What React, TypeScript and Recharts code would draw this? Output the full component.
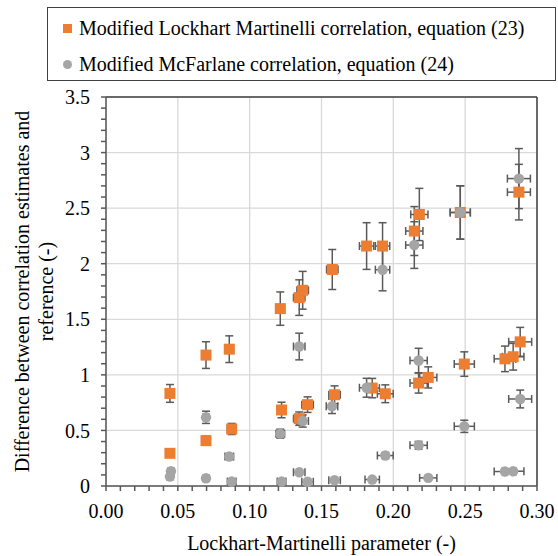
import { ScatterChart, Scatter, XAxis, YAxis, CartesianGrid, ErrorBar, ReferenceLine, Legend } from 'recharts';

const FONT = "'Liberation Serif', 'DejaVu Serif', Times, serif";
const ORANGE = '#ED7D31';
const GRAY = '#A5A5A5';
const BAR = '#5A5A5A';

// Modified Lockhart Martinelli correlation, equation (23)
const lmX = [0.0445, 0.0445, 0.0696, 0.0696, 0.0858, 0.0875, 0.1213, 0.1222, 0.1345, 0.1345, 0.1369, 0.1403, 0.1575, 0.1591,
  0.1814, 0.1853, 0.1925, 0.1944, 0.2146, 0.2181, 0.2176, 0.2243, 0.2466, 0.2494, 0.2777, 0.2834, 0.2874, 0.2883];
const lmY = [0.833, 0.294, 1.178, 0.408, 1.231, 0.513, 1.596, 0.684, 1.695, 0.606, 1.761, 0.732, 1.948, 0.821,
  2.159, 0.881, 2.159, 0.83, 2.294, 2.443, 0.926, 0.977, 2.461, 1.097, 1.144, 1.163, 2.644, 1.297];
const lmYErr = [0.08, 0.03, 0.12, 0.04, 0.12, 0.05, 0.15, 0.07, 0.16, 0.06, 0.17, 0.07, 0.18, 0.08,
  0.21, 0.087, 0.21, 0.08, 0.22, 0.235, 0.09, 0.095, 0.24, 0.11, 0.115, 0.12, 0.25, 0.13];
const lmXErr = [0.002, 0.002, 0.002, 0.002, 0.003, 0.003, 0.003, 0.003, 0.004, 0.004, 0.004, 0.004, 0.004, 0.004,
  0.005, 0.005, 0.005, 0.0055, 0.006, 0.006, 0.006, 0.006, 0.007, 0.007, 0.0075, 0.0075, 0.008, 0.008];

// Modified McFarlane correlation, equation (24)
const mfX = [0.0452, 0.0445, 0.0696, 0.0696, 0.0858, 0.0875, 0.1213, 0.1222, 0.1345, 0.1345, 0.1369, 0.1403, 0.1573, 0.1591,
  0.1814, 0.1853, 0.1925, 0.1944, 0.2146, 0.2176, 0.2176, 0.2243, 0.2466, 0.2494, 0.2777, 0.2834, 0.2874, 0.2883];
const mfY = [0.133, 0.085, 0.618, 0.07, 0.265, 0.04, 0.471, 0.04, 1.255, 0.124, 0.585, 0.038, 0.717, 0.052,
  0.884, 0.058, 1.946, 0.274, 2.168, 1.129, 0.366, 0.073, 2.461, 0.537, 0.13, 0.133, 2.766, 0.783];
const mfYErr = [0.01, 0.01, 0.055, 0.007, 0.025, 0.004, 0.04, 0.004, 0.12, 0.012, 0.055, 0.004, 0.065, 0.005,
  0.085, 0.006, 0.19, 0.027, 0.21, 0.11, 0.035, 0.007, 0.24, 0.055, 0.013, 0.013, 0.27, 0.08];
const mfXErr = lmXErr;

const X_TICKS = [0, 0.01, 0.02, 0.03, 0.04, 0.05, 0.06, 0.07, 0.08, 0.09, 0.1, 0.11, 0.12, 0.13, 0.14, 0.15,
  0.16, 0.17, 0.18, 0.19, 0.2, 0.21, 0.22, 0.23, 0.24, 0.25, 0.26, 0.27, 0.28, 0.29, 0.3];
const X_MAJOR = [0, 0.05, 0.1, 0.15, 0.2, 0.25, 0.3];
const Y_TICKS = [0, 0.1, 0.2, 0.3, 0.4, 0.5, 0.6, 0.7, 0.8, 0.9, 1, 1.1, 1.2, 1.3, 1.4, 1.5, 1.6, 1.7, 1.8, 1.9,
  2, 2.1, 2.2, 2.3, 2.4, 2.5, 2.6, 2.7, 2.8, 2.9, 3, 3.1, 3.2, 3.3, 3.4, 3.5];
const Y_MAJOR = [0, 0.5, 1, 1.5, 2, 2.5, 3, 3.5];

const lmData = lmX.map((x, i) => ({ x, y: lmY[i], ey: lmYErr[i], ex: lmXErr[i] }));
const mfData = mfX.map((x, i) => ({ x, y: mfY[i], ey: mfYErr[i], ex: mfXErr[i] }));

const Square = (p: any) => <rect x={p.cx - 5.5} y={p.cy - 5.5} width={11} height={11} fill={ORANGE} />;
const Dot = (p: any) => <circle cx={p.cx} cy={p.cy} r={5.2} fill={GRAY} />;

const LegendBox = (props: any) => {
  const items = props.payload ?? [];
  return (
    <div style={{ width: 507, height: 72, border: '1px solid #404040', fontFamily: FONT, fontSize: 20, color: '#000', position: 'relative' }}>
      {items.map((it: any, i: number) => (
        <div key={i} style={{ position: 'absolute', left: 15, top: i === 0 ? 7 : 43, height: 26, lineHeight: '26px', display: 'flex', alignItems: 'center', whiteSpace: 'nowrap' }}>
          {i === 0
            ? <span style={{ display: 'inline-block', width: 9, height: 9, background: ORANGE, marginRight: 7 }} />
            : <span style={{ display: 'inline-block', width: 9, height: 9, borderRadius: '50%', background: GRAY, marginRight: 7 }} />}
          <span>{it.value}</span>
        </div>
      ))}
    </div>
  );
};

const XTitle = (p: any) => {
  const vb = p.viewBox;
  return (
    <text x={vb.x + vb.width / 2} y={vb.y + 57} textAnchor="middle" dominantBaseline="central" style={{ fontFamily: FONT }} fontSize={20} fill="#000">
      Lockhart-Martinelli parameter (-)
    </text>
  );
};

const YTitle = (p: any) => {
  const vb = p.viewBox;
  const cy = vb.y + vb.height / 2;
  return (
    <g style={{ fontFamily: FONT }} fontSize={20} fill="#000">
      <text transform={`translate(${vb.x - 24}, ${cy}) rotate(-90)`} textAnchor="middle" dominantBaseline="central">
        Difference between correlation estimates and
      </text>
      <text transform={`translate(${vb.x}, ${cy}) rotate(-90)`} textAnchor="middle" dominantBaseline="central">
        reference (-)
      </text>
    </g>
  );
};

const tickStyle = { fontSize: 20, fill: '#000', style: { fontFamily: FONT } };

export default function App() {
  return (
    <div style={{ position: 'absolute', left: 0, top: 0, fontFamily: FONT }}>
      <ScatterChart width={558} height={556} margin={{ top: 97, right: 21, bottom: 30, left: 46 }} style={{ fontFamily: FONT }}>
        <CartesianGrid stroke="#D9D9D9" strokeWidth={1.3} verticalValues={X_MAJOR} horizontalValues={Y_MAJOR} />
        <XAxis
          type="number"
          dataKey="x"
          domain={[0, 0.3]}
          ticks={X_TICKS}
          interval={0}
          height={40}
          tickSize={5}
          tickMargin={13}
          tickFormatter={(v: number) => (X_MAJOR.includes(v) ? v.toFixed(2) : '')}
          tick={tickStyle}
          axisLine={{ stroke: '#595959', strokeWidth: 1.5 }}
          tickLine={{ stroke: '#595959', strokeWidth: 1.5 }}
          label={<XTitle />}
        />
        <YAxis
          type="number"
          dataKey="y"
          domain={[0, 3.5]}
          ticks={Y_TICKS}
          interval={0}
          width={60}
          tickSize={5}
          tickMargin={11}
          tickFormatter={(v: number) => (Y_MAJOR.includes(v) ? String(v) : '')}
          tick={tickStyle}
          axisLine={{ stroke: '#595959', strokeWidth: 1.5 }}
          tickLine={{ stroke: '#595959', strokeWidth: 1.5 }}
          label={<YTitle />}
        />
        <ReferenceLine y={3.5} stroke="#404040" strokeWidth={1.5} />
        <ReferenceLine x={0.3} stroke="#404040" strokeWidth={1.5} />
        <Legend
          layout="vertical"
          align="center"
          verticalAlign="middle"
          content={<LegendBox />}
          wrapperStyle={{ top: 7, left: 47, width: 509, height: 74 }}
        />
        <Scatter name="Modified Lockhart Martinelli correlation, equation (23)" data={lmData} fill={ORANGE} shape={Square} isAnimationActive={false}>
          <ErrorBar dataKey="ey" direction="y" width={4} stroke={BAR} strokeWidth={1.5} />
          <ErrorBar dataKey="ex" direction="x" width={4} stroke={BAR} strokeWidth={1.5} />
        </Scatter>
        <Scatter name="Modified McFarlane correlation, equation (24)" data={mfData} fill={GRAY} shape={Dot} isAnimationActive={false}>
          <ErrorBar dataKey="ey" direction="y" width={4} stroke={BAR} strokeWidth={1.5} />
          <ErrorBar dataKey="ex" direction="x" width={4} stroke={BAR} strokeWidth={1.5} />
        </Scatter>
      </ScatterChart>
    </div>
  );
}
